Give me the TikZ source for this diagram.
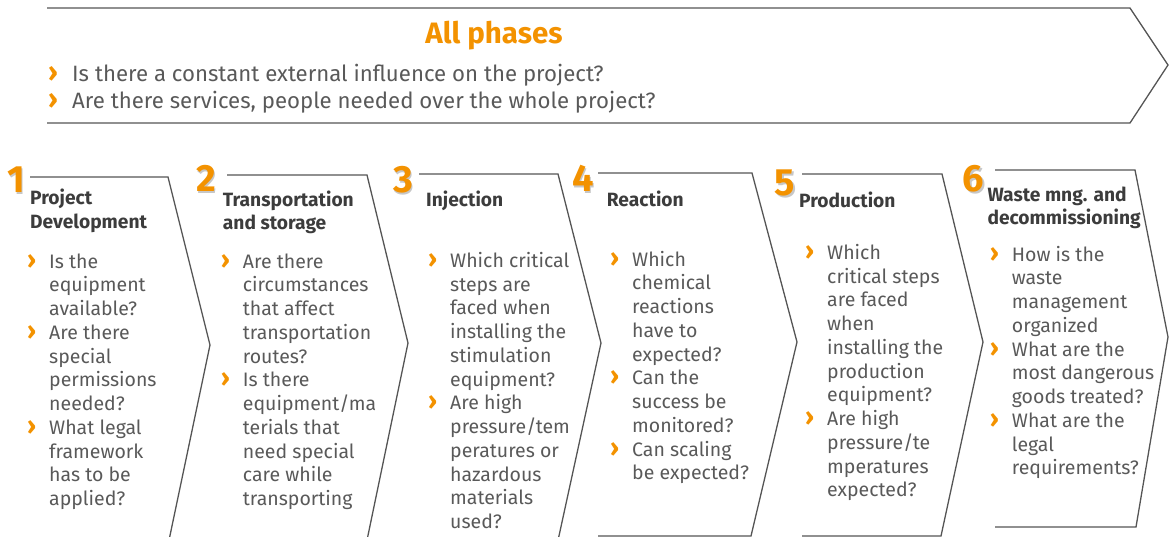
\documentclass[tikz,border=0pt]{standalone}
\usepackage{fontspec}
\setmainfont{Fira Sans}
\definecolor{phaseorange}{HTML}{F39200}
\definecolor{linegray}{HTML}{555555}
\definecolor{textgray}{HTML}{595959}
\definecolor{headgray}{HTML}{3C3C3C}
\newcommand{\bul}[2][22pt]{\makebox[#1][l]{\textcolor{phaseorange}{\fontsize{#2}{0}\selectfont\bfseries ›}}}
\newcommand{\ind}[1][22pt]{\hspace*{#1}}

\begin{document}
\begin{tikzpicture}[x=1pt, y=-1pt,
    chev/.style={draw=linegray, line width=1.3pt, line join=miter},
    num/.style={anchor=base, inner sep=0pt, text=phaseorange,
      font=\fontsize{38}{38}\selectfont\bfseries},
    numshade/.style={num, text=black!22},
    head/.style={anchor=north west, inner sep=0pt, align=left, text=headgray,
      font=\fontsize{19.2}{23.5}\selectfont\bfseries,
      execute at begin node={\rule{0pt}{16pt}}},
    ask/.style={anchor=north west, inner sep=0pt, align=left, text=textgray,
      font=\fontsize{19.5}{23.74}\selectfont,
      execute at begin node={\rule{0pt}{16pt}}}]
  \useasboundingbox (0,0) rectangle (1170,537);
  \clip (0,0) rectangle (1170,537);

  \draw[chev] (47,8) -- (1130,8) -- (1168,65) -- (1130,123) -- (47,123);
  \node[anchor=base, inner sep=0pt, text=phaseorange,
    font=\fontsize{29.5}{29.5}\selectfont\bfseries] (allph) at (494,43.3) {All phases};
  \node[ask, font=\fontsize{22.2}{26.6}\selectfont,
    execute at begin node={\rule{0pt}{20pt}}] (gen) at (48,64.2)
    {\bul[24pt]{27}Is there a constant external influence on the project?\\
     \bul[24pt]{27}Are there services, people needed over the whole project?};

  \draw[chev] (30,177) -- (168,177) -- (210,345) -- (168,545) -- (30,545);
  \draw[chev] (227,175) -- (367,175) -- (408,343) -- (366,545) -- (227,545);
  \draw[chev] (419,174) -- (558,174) -- (601,343) -- (557,545) -- (419,545);
  \draw[chev] (598,173) -- (752,173) -- (797,342) -- (751,536) -- (598,536);
  \draw[chev] (802,174) -- (942,174) -- (983,342) -- (941,536) -- (802,536);
  \draw[chev] (995,170) -- (1135,170) -- (1168,337) -- (1136,527) -- (995,527);

  \node[numshade] (num1s) at (17.5,194.5) {1};
  \node[num] (num1) at (16,193) {1};
  \node[numshade] (num2s) at (207.5,193.5) {2};
  \node[num] (num2) at (206,192) {2};
  \node[numshade] (num3s) at (404.5,194.5) {3};
  \node[num] (num3) at (403,193) {3};
  \node[numshade] (num4s) at (584.5,193.5) {4};
  \node[num] (num4) at (583,192) {4};
  \node[numshade] (num5s) at (786.5,197.5) {5};
  \node[num] (num5) at (785,196) {5};
  \node[numshade] (num6s) at (975,193.5) {6};
  \node[num] (num6) at (973.5,192) {6};

  \node[head] (head1) at (30,189) {Project\\Development};
  \node[head] (head2) at (222.7,190.7) {Transportation\\and storage};
  \node[head] (head3) at (426,190.7) {Injection};
  \node[head] (head4) at (606.7,190.7) {Reaction};
  \node[head] (head5) at (799,191.7) {Production};
  \node[head] (head6) at (987.3,186.7) {Waste mng. and\\decommissioning};

  \node[ask] (ask1) at (27,253.3)
    {\bul{25}Is the\\ \ind equipment\\ \ind available?\\
     \bul{25}Are there\\ \ind special\\ \ind permissions\\ \ind needed?\\
     \bul{25}What legal\\ \ind framework\\ \ind has to be\\ \ind applied?};
  \node[ask] (ask2) at (220.7,253.3)
    {\bul{25}Are there\\ \ind circumstances\\ \ind that affect\\
     \ind transportation\\ \ind routes?\\
     \bul{25}Is there\\ \ind equipment/ma\\ \ind terials that\\
     \ind need special\\ \ind care while\\ \ind transporting};
  \node[ask] (ask3) at (428,252)
    {\bul{25}Which critical\\ \ind steps are\\ \ind faced when\\
     \ind installing the\\ \ind stimulation\\ \ind equipment?\\
     \bul{25}Are high\\ \ind pressure/tem\\ \ind peratures or\\
     \ind hazardous\\ \ind materials\\ \ind used?};
  \node[ask] (ask4) at (610,250.7)
    {\bul{25}Which\\ \ind chemical\\ \ind reactions\\ \ind have to\\
     \ind expected?\\
     \bul{25}Can the\\ \ind success be\\ \ind monitored?\\
     \bul{25}Can scaling\\ \ind be expected?};
  \node[ask] (ask5) at (805,244)
    {\bul{25}Which\\ \ind critical steps\\ \ind are faced\\ \ind when\\
     \ind installing the\\ \ind production\\ \ind equipment?\\
     \bul{25}Are high\\ \ind pressure/te\\ \ind mperatures\\ \ind expected?};
  \node[ask] (ask6) at (989.7,245.7)
    {\bul{25}How is the\\ \ind waste\\ \ind management\\ \ind organized\\
     \bul{25}What are the\\ \ind most dangerous\\ \ind goods treated?\\
     \bul{25}What are the\\ \ind legal\\ \ind requirements?};
\end{tikzpicture}
\end{document}
